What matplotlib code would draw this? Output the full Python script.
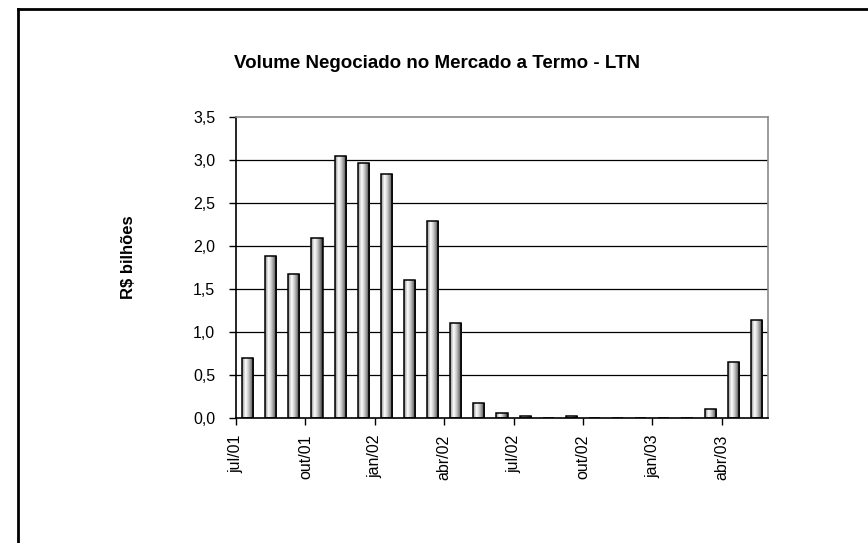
import numpy as np
import matplotlib
matplotlib.use("Agg")
import matplotlib.pyplot as plt
from matplotlib.colors import LinearSegmentedColormap
from matplotlib.lines import Line2D

plt.rcParams['font.family'] = ['Liberation Sans', 'DejaVu Sans']

# monthly volume, jul/01 .. mai/03 (R$ bilhoes)
months = ["jul/01", "ago/01", "set/01", "out/01", "nov/01", "dez/01",
          "jan/02", "fev/02", "mar/02", "abr/02", "mai/02", "jun/02",
          "jul/02", "ago/02", "set/02", "out/02", "nov/02", "dez/02",
          "jan/03", "fev/03", "mar/03", "abr/03", "mai/03"]
volume = [0.70, 1.88, 1.67, 2.09, 3.05, 2.96,
          2.84, 1.60, 2.29, 1.10, 0.18, 0.06,
          0.02, 0.0, 0.02, 0.0, 0.0, 0.0,
          0.0, 0.0, 0.10, 0.65, 1.14]
yticks = [0.0, 0.5, 1.0, 1.5, 2.0, 2.5, 3.0, 3.5]

fig = plt.figure(figsize=(8.68, 5.43), dpi=100)
ax = fig.add_axes([236/868, 1-418/543, (768-236)/868, (418-117)/543])

x = np.arange(len(months)) + 0.5
bars = ax.bar(x, volume, width=0.48, facecolor='none', edgecolor='black',
              linewidth=1.1, zorder=3)

# cylinder-like shading of the bars
shade = LinearSegmentedColormap.from_list(
    "shade", [(0.0, "#8c8c8c"), (0.3, "#ffffff"), (0.55, "#c8c8c8"),
              (0.8, "#7a7a7a"), (1.0, "#202020")])
grad = np.linspace(0, 1, 64).reshape(1, -1)
for b in bars:
    if b.get_height() <= 0:
        continue
    x0 = b.get_x()
    im = ax.imshow(grad, cmap=shade, aspect='auto', zorder=2.5,
                   extent=(x0, x0 + b.get_width(), 0, b.get_height()))
    im.set_clip_path(b)

ax.set_xlim(0, len(months))
ax.set_ylim(0, 3.5)
ax.set_yticks(yticks)
ax.set_yticklabels([f"{v:.1f}".replace(".", ",") for v in yticks], fontsize=11.5)
tick_pos = np.arange(0, len(months), 3)
ax.set_xticks(tick_pos)
ax.set_xticklabels([months[i] for i in tick_pos], rotation=90, fontsize=11.5)
ax.tick_params(axis='both', direction='out', length=5, width=1, color='black')
ax.tick_params(axis='x', pad=7)
ax.tick_params(axis='y', pad=10)

for v in yticks[1:-1]:
    ax.axhline(v, color='black', linewidth=0.9, zorder=1)

ax.spines['left'].set_color('black')
ax.spines['bottom'].set_color('black')
ax.spines['top'].set_color('#8a8a8a')
ax.spines['right'].set_color('#8a8a8a')
for s in ax.spines.values():
    s.set_linewidth(1.2)

ax.set_ylabel("R$ bilhões", fontsize=12, fontweight='bold')
ax.yaxis.set_label_coords((136-236)/532, (418-257)/301)
fig.text(437/868, 1-63/543, "Volume Negociado no Mercado a Termo - LTN",
         ha='center', va='center', fontsize=13.5, fontweight='bold')

# outer chart frame (left and top visible)
fig.add_artist(Line2D([18/868, 18/868], [0, 1-9/543], color='black',
                      linewidth=2, transform=fig.transFigure))
fig.add_artist(Line2D([18/868, 1], [1-9/543, 1-9/543], color='black',
                      linewidth=2, transform=fig.transFigure))

fig.savefig("out.png", dpi=100)
